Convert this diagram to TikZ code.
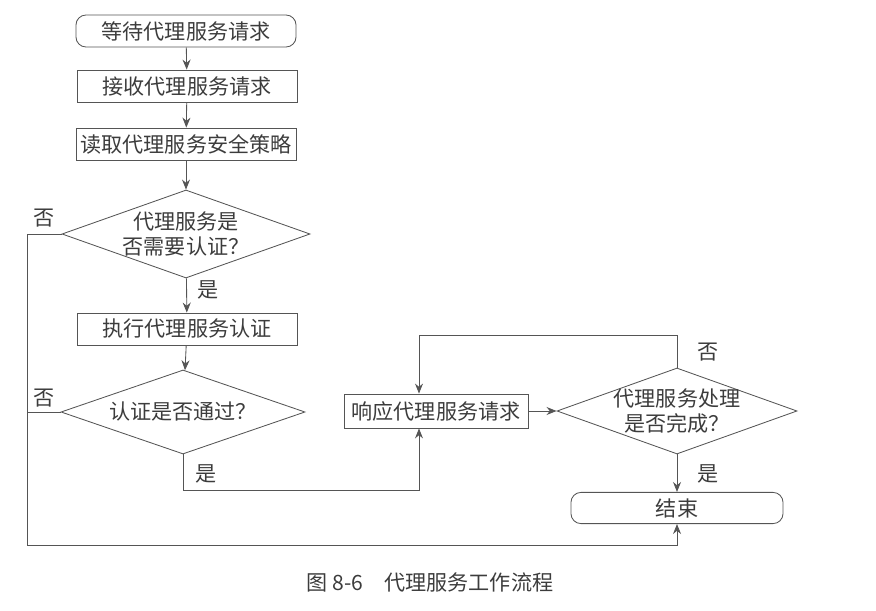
\documentclass[tikz,border=0pt]{standalone}
\usepackage{fontspec}
\newfontfamily\cjk{Noto Sans CJK SC}
\usetikzlibrary{arrows.meta,shapes.geometric}
\definecolor{linegray}{HTML}{555555}
\definecolor{textgray}{HTML}{3C3C3C}

\begin{document}
\begin{tikzpicture}[x=0.025cm, y=-0.025cm,
    every node/.style={font=\cjk\fontsize{15}{18}\selectfont, text=textgray},
    proc/.style={draw=linegray, line width=0.6pt, minimum width=5.5cm, minimum height=0.8cm, inner sep=0pt},
    term/.style={proc, rounded corners=0.25cm},
    judge/.style={draw=linegray, line width=0.6pt, diamond, inner sep=-3pt, align=center},
    flow/.style={draw=linegray, line width=0.6pt},
    flowarrow/.style={flow, -{Stealth[length=2.5mm,width=2mm]}}]
    \useasboundingbox (0,0) rectangle (876,611);

    % 左侧主流程
    \node[term] (start) at (186,31) {等待代理服务请求};
    \node[proc] (recv) at (187,86) {接收代理服务请求};
    \node[proc] (policy) at (186,144) {读取代理服务安全策略};
    \node[judge, aspect=2.82, minimum width=6.2cm, minimum height=2.2cm] (needauth) at (186,234) {代理服务是\\否需要认证？};
    \node[proc] (auth) at (187,329) {执行代理服务认证};
    \node[judge, aspect=2.9, minimum width=6.1cm, minimum height=2.1cm] (passed) at (183,412) {认证是否通过？};

    % 右侧
    \node[proc, minimum width=4.6cm, minimum height=0.85cm] (resp) at (436,411) {响应代理服务请求};
    \node[judge, aspect=2.77, minimum width=6.0cm, minimum height=2.15cm] (done) at (677,411) {代理服务处理\\是否完成？};
    \node[term, minimum width=5.3cm, minimum height=0.78cm] (finish) at (677,508) {结束};

    \coordinate (lb) at (27,545);
    \coordinate (rin) at (419,490);
    \coordinate (rtop) at (419,335);

    \draw[flowarrow] (start) -- (recv);
    \draw[flowarrow] (recv) -- (policy);
    \draw[flowarrow] (policy) -- (needauth);
    \draw[flowarrow] (needauth) -- (auth);
    \draw[flowarrow] (auth) -- (passed);
    \draw[flowarrow] (needauth.west) -| (lb) -| (finish.south);
    \draw[flow] (passed.west) -- (passed.west -| lb);
    \draw[flowarrow] (passed.south) |- (rin) -- (rin |- resp.south);
    \draw[flowarrow] (resp.east) -- (done.west);
    \draw[flowarrow] (done.north) |- (rtop) -- (rtop |- resp.north);
    \draw[flowarrow] (done.south) -- (finish.north);

    \node (n1) at (44,218) {否};
    \node (y1) at (208,290) {是};
    \node (n2) at (44,398) {否};
    \node (y2) at (206,474) {是};
    \node (n3) at (708,352) {否};
    \node (y3) at (708,474) {是};

    \node (caption) at (430,582) {图 8-6\quad 代理服务工作流程};
\end{tikzpicture}
\end{document}
